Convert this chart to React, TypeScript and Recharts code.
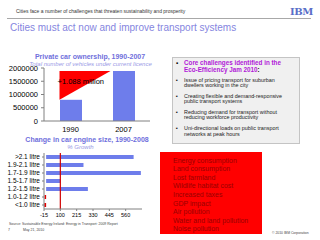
import React from 'react';
import { BarChart, Bar, XAxis, YAxis, ReferenceArea, ReferenceLine, Cell } from 'recharts';

// private car ownership
const years = ['1990', '2007'];
const vehicles = [800000, 1888000];
const ownershipTicks = [0, 500000, 1000000, 1500000, 2000000];
const increaseLabel = '+1.088 million';

// engine size growth, %
const engineSizes = ['>2.1 litre', '1.9-2.1 litre', '1.7-1.9 litre', '1.5-1.7 litre', '1.2-1.5 litre', '1.0-1.2 litre', '<1.0 litre'];
const growth = [616, 263, 667, 102, 294, -11, -13];
const growthTicks = [-15, 100, 215, 330, 445, 560];

const coreTitle = ['Core challenges identified in the', 'Eco-Efficiency Jam 2010'];
const challenges = [
  ['Issue of pricing transport for suburban', 'dwellers working in the city'],
  ['Creating flexible and demand-responsive', 'public transport systems'],
  ['Reducing demand for transport without', 'reducing workforce productivity'],
  ['Uni-directional loads on public transport', 'networks at peak hours'],
];
const impacts = [
  'Energy consumption',
  'Land consumption',
  'Lost farmland',
  'Wildlife habitat cost',
  'Increased taxes',
  'GDP impact',
  'Air pollution',
  'Water and land pollution',
  'Noise pollution',
];

const FONT = '"Liberation Sans", Arial, sans-serif';
const BLUE = '#6e7deb';
const BAR_SIZE = 22;

const ownershipData = years.map((year, i) => ({ year, vehicles: vehicles[i] }));
const engineData = engineSizes.map((size, i) => ({ size, growth: growth[i] }));

const Triangle = (props: any) => {
  const { x, y, width, height } = props;
  const band = width / 2;
  const left = x + band / 2 - BAR_SIZE / 2;
  const right = x + band + band / 2 - BAR_SIZE / 2 - 2;
  return (
    <g>
      <polygon points={`${left},${y} ${right},${y} ${left},${y + height}`} fill="#ff0000" />
      <text x={left - 2} y={y + height * 0.38} fontSize={7.5} fill="#000" dominantBaseline="middle" fontFamily={FONT}>
        {increaseLabel}
      </text>
    </g>
  );
};

const SizeTick = ({ x, y, payload }: any) => (
  <text x={x} y={y} textAnchor="end" dominantBaseline="middle" fontSize={6.5} fill="#000" fontFamily={FONT}>
    {payload.value}
  </text>
);

const abs = (left: number, top: number, extra: React.CSSProperties = {}): React.CSSProperties => ({
  position: 'absolute',
  left,
  top,
  whiteSpace: 'nowrap',
  ...extra,
});

export default function App() {
  return (
    <div style={{ position: 'absolute', left: 0, top: 0, width: 320, height: 240, background: '#fff', fontFamily: FONT, overflow: 'hidden' }}>
      <div style={abs(16, 8, { fontSize: 5, lineHeight: '6px', color: '#333' })}>
        Cities face a number of challenges that threaten sustainability and prosperity
      </div>
      <div style={abs(290, 6, { fontSize: 10, lineHeight: '12px', fontWeight: 'bold', color: '#5a6ec8', fontFamily: '"DejaVu Serif", serif', letterSpacing: -0.5 })}>
        IBM
      </div>
      <div style={abs(7, 18, { width: 304, height: 1, background: '#a8a8a8' })} />
      <div style={abs(10, 22, { fontSize: 10, lineHeight: '12px', color: '#8585e0' })}>
        Cities must act now and improve transport systems
      </div>

      <div style={abs(0, 53, { width: 180, textAlign: 'center', fontSize: 7, lineHeight: '8px', fontWeight: 'bold', color: '#6f6fdc' })}>
        Private car ownership, 1990-2007
      </div>

      <div style={abs(0, 60, { width: 160, height: 80 })}>
        <BarChart width={160} height={80} data={ownershipData} margin={{ top: 8, right: 10, bottom: 0, left: 0 }}>
          <XAxis dataKey="year" height={19} tickLine={false} tickSize={4} tickMargin={2} stroke="#808080"
            tick={{ fontSize: 7.5, fill: '#000', fontFamily: FONT }} />
          <YAxis domain={[0, 2000000]} ticks={ownershipTicks} width={44} tickSize={3} tickMargin={3} stroke="#808080"
            interval={0} tick={{ fontSize: 7.5, fill: '#000', fontFamily: FONT }} />
          <Bar dataKey="vehicles" fill={BLUE} barSize={BAR_SIZE} isAnimationActive={false} />
          <ReferenceArea x1={years[0]} x2={years[1]} y1={vehicles[0]} y2={vehicles[1]} shape={Triangle} />
        </BarChart>
      </div>

      <div style={abs(0, 61, { width: 181, textAlign: 'center', fontSize: 6, lineHeight: '7px', fontStyle: 'italic', color: '#9a9ae6' })}>
        Total number of vehicles under current licence
      </div>

      <div style={abs(0, 136, { width: 174, textAlign: 'center', fontSize: 7, lineHeight: '8px', fontWeight: 'bold', color: '#6f6fdc' })}>
        Change in car engine size, 1990-2008
      </div>
      <div style={abs(0, 143.5, { width: 161, textAlign: 'center', fontSize: 6, lineHeight: '7px', fontStyle: 'italic', color: '#9a9ae6' })}>
        % Growth
      </div>

      <div style={abs(0, 148, { width: 160, height: 76 })}>
        <BarChart width={160} height={76} data={engineData} layout="vertical" margin={{ top: 5, right: 18, bottom: 0, left: 0 }}>
          <XAxis type="number" domain={[-15, 675]} ticks={growthTicks} interval={0} height={15} tickSize={2} tickMargin={2}
            stroke="#808080" tick={{ fontSize: 5.5, fill: '#000', fontFamily: FONT }} />
          <YAxis type="category" dataKey="size" width={44} tickSize={2} tickMargin={2} interval={0} stroke="#808080"
            tick={<SizeTick />} />
          <Bar dataKey="growth" barSize={4} isAnimationActive={false}>
            {engineData.map((d) => (
              <Cell key={d.size} fill={d.growth < 0 ? '#e00000' : BLUE} />
            ))}
          </Bar>
          <ReferenceLine x={100} stroke="#d00000" strokeWidth={1.2} />
        </BarChart>
      </div>

      <div style={abs(172, 57, { width: 128, height: 87, boxSizing: 'border-box', background: '#f0f0f0', border: '1px solid #c4c4c4' })}>
        <div style={{ position: 'relative', paddingLeft: 11, paddingTop: 0.5 }}>
          <div style={{ position: 'relative', fontSize: 6.3, lineHeight: '7px', fontWeight: 'bold', color: '#b018d8' }}>
            <span style={{ position: 'absolute', left: -8, color: '#000', fontWeight: 'normal' }}>▪</span>
            <div>{coreTitle[0]}</div>
            <div>{coreTitle[1]}<span style={{ color: '#000' }}>:</span></div>
          </div>
          {challenges.map((c) => (
            <div key={c[0]} style={{ position: 'relative', marginTop: 5, fontSize: 5.4, lineHeight: '5.6px', color: '#222' }}>
              <span style={{ position: 'absolute', left: -8 }}>▪</span>
              <div>{c[0]}</div>
              <div>{c[1]}</div>
            </div>
          ))}
        </div>
      </div>

      <div style={abs(160, 152, { width: 102, height: 82, background: '#ff0000', boxSizing: 'border-box', paddingLeft: 13, paddingTop: 4.7 })}>
        {impacts.map((t) => (
          <div key={t} style={{ fontSize: 7, lineHeight: '8.6px', color: '#990000' }}>{t}</div>
        ))}
      </div>

      <div style={abs(9, 222, { fontSize: 3.5, lineHeight: '4px', color: '#444' })}>
        Source: Sustainable Energy Ireland: Energy in Transport: 2009 Report
      </div>
      <div style={abs(8, 228, { fontSize: 3.5, lineHeight: '4px', color: '#444' })}>7</div>
      <div style={abs(23, 228, { fontSize: 3.5, lineHeight: '4px', color: '#444' })}>May 21, 2010</div>
      <div style={abs(272, 231, { fontSize: 3.4, lineHeight: '4px', color: '#444' })}>© 2010 IBM Corporation</div>
    </div>
  );
}
